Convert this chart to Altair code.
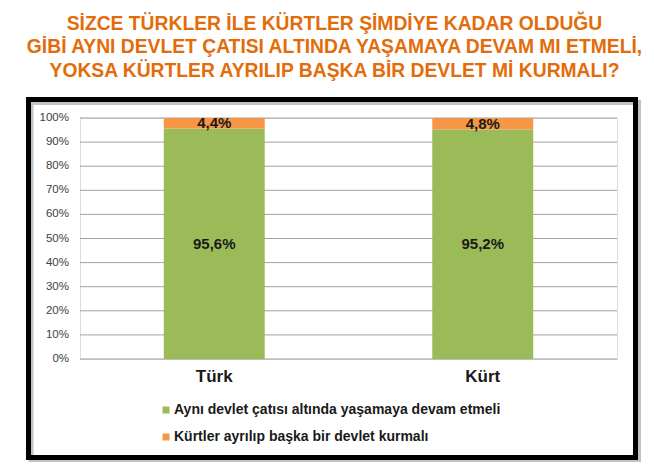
import altair as alt
import pandas as pd

groups = ["Türk", "Kürt"]
answers = [
    "Aynı devlet çatısı altında yaşamaya devam  etmeli",
    "Kürtler ayrılıp başka bir devlet kurmalı",
]
stay = [95.6, 95.2]
leave = [4.4, 4.8]
colors = ["#9BBB59", "#F79646"]
title_lines = [
    "SİZCE TÜRKLER İLE KÜRTLER ŞİMDİYE KADAR OLDUĞU",
    "GİBİ AYNI DEVLET ÇATISI ALTINDA YAŞAMAYA DEVAM MI ETMELİ,",
    "YOKSA KÜRTLER AYRILIP BAŞKA BİR DEVLET Mİ KURMALI?",
]
y_ticks = [0, 10, 20, 30, 40, 50, 60, 70, 80, 90, 100]

rows = []
for g, s, l in zip(groups, stay, leave):
    rows.append(dict(group=g, answer=answers[0], order=0, lo=0.0, hi=s / 100,
                     mid=s / 200, label=f"{s:.1f}%".replace(".", ",")))
    rows.append(dict(group=g, answer=answers[1], order=1, lo=s / 100, hi=(s + l) / 100,
                     mid=(s + l / 2) / 100, label=f"{l:.1f}%".replace(".", ",")))
df = pd.DataFrame(rows)
ticks_df = pd.DataFrame({"v": [t / 100 for t in y_ticks], "lab": [f"{t}%" for t in y_ticks]})

x_scale = alt.Scale(paddingInner=0.624, paddingOuter=0.312)
x_axis = alt.Axis(labelAngle=0, labelFont="Liberation Sans", labelFontSize=17,
                  labelFontWeight="bold", labelColor="#1a1a1a", labelPadding=9,
                  domain=False, ticks=False, grid=False)
y_scale = alt.Scale(domain=[0, 1], nice=False)

frame_df = pd.DataFrame({"k": [0]})
shadow = alt.Chart(frame_df).mark_rect(
    fill="transparent", stroke="#9a9a9a", strokeWidth=5, strokeOpacity=0.6
).encode(x=alt.value(-49), x2=alt.value(558.5), y=alt.value(-15.5), y2=alt.value(342.5))
box = alt.Chart(frame_df).mark_rect(
    fill="transparent", stroke="#000000", strokeWidth=5
).encode(x=alt.value(-51.5), x2=alt.value(555.5), y=alt.value(-18.5), y2=alt.value(339.5))

grid = alt.Chart(ticks_df).mark_rule(color="#A0A0A0", strokeWidth=1).encode(
    y=alt.Y("v:Q", scale=y_scale, axis=None),
)
tick_labels = alt.Chart(ticks_df).mark_text(
    align="right", baseline="middle", font="Liberation Sans", fontSize=11.5,
    color="#404040",
).encode(
    x=alt.value(-11),
    y=alt.Y("v:Q", scale=y_scale, axis=None),
    text="lab:N",
)

bars = alt.Chart(df).mark_bar().encode(
    x=alt.X("group:N", sort=groups, title=None, scale=x_scale, axis=x_axis),
    y=alt.Y("lo:Q", scale=y_scale, axis=None),
    y2="hi:Q",
    color=alt.Color(
        "answer:N", sort=answers,
        scale=alt.Scale(domain=answers, range=colors),
        legend=alt.Legend(
            title=None, orient="none", legendX=79, legendY=285, padding=0,
            symbolType="square", symbolSize=49, symbolStrokeWidth=0,
            labelFont="Liberation Sans", labelFontSize=14,
            labelFontWeight="bold", labelColor="#1a1a1a", labelOffset=1,
            rowPadding=13, labelLimit=500,
        ),
    ),
    order=alt.Order("order:Q"),
)

labels = alt.Chart(df).mark_text(
    font="Liberation Sans", fontWeight="bold", fontSize=15, color="#1a1a1a"
).encode(
    x=alt.X("group:N", sort=groups, title=None, scale=x_scale, axis=x_axis),
    y=alt.Y("mid:Q", scale=y_scale, axis=None),
    text="label:N",
)

chart = alt.layer(shadow, box, grid, tick_labels, bars, labels).properties(
    width=537,
    height=241,
    autosize=alt.AutoSizeParams(type="none"),
    padding={"left": 72, "top": 110, "right": 29, "bottom": 103},
    title=alt.TitleParams(
        text=title_lines, font="Liberation Sans", fontSize=19.3,
        fontWeight="bold", color="#E36C0A", anchor="middle", lineHeight=23.5,
        offset=16, dx=-14,
    ),
).configure_view(strokeWidth=0).configure(background="white")

chart.save("out.html", embed_options={"renderer": "svg", "actions": False})
